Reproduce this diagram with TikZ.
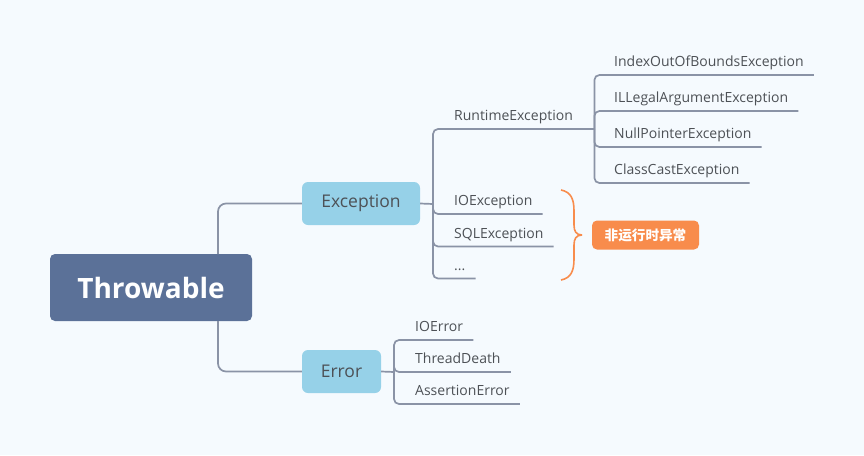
\documentclass[tikz,border=0pt]{standalone}
\usepackage{fontspec}
\setmainfont{Open Sans}
\newfontfamily\cjk{Noto Sans CJK SC}
\definecolor{bgc}{HTML}{F5FAFE}
\definecolor{rootc}{HTML}{5B7198}
\definecolor{subc}{HTML}{96D1E8}
\definecolor{linec}{HTML}{8A93A6}
\definecolor{txtc}{HTML}{4D5156}
\definecolor{orangec}{HTML}{F88C4C}
\begin{document}
\begin{tikzpicture}[x=1pt,y=-1pt,
  conn/.style={draw=linec,line width=1.7pt,rounded corners=5pt},
  rootbox/.style={fill=rootc,rounded corners=5pt,minimum width=202pt,minimum height=67pt,text=white,font=\fontsize{28}{30}\selectfont\bfseries},
  subbox/.style={fill=subc,rounded corners=6pt,minimum height=43pt,text=txtc,font=\fontsize{17.5}{20}\selectfont},
  leaf/.style={anchor=south west,inner xsep=10pt,inner ysep=8pt,text depth=0pt,text=txtc,font=\fontsize{14}{16}\selectfont},
  orangebox/.style={fill=orangec,rounded corners=5pt,minimum width=107pt,minimum height=29pt,text=white,font=\cjk\bfseries\fontsize{13.6}{15}\selectfont},
  brace/.style={draw=orangec,line width=1.6pt}]
\fill[bgc] (0,0) rectangle (864,455);
\useasboundingbox (0,0) rectangle (864,455);

\node[rootbox] (thr) at (151,287.5) {Throwable};
\node[subbox,minimum width=118pt] (exc) at (361,203.5) {Exception};
\node[subbox,minimum width=79pt] (err) at (341.5,371.5) {Error};

\coordinate (tj1) at (218,254);
\coordinate (tj2) at (218,321);
\draw[conn,rounded corners=8pt] (tj1) |- (exc.west);
\draw[conn,rounded corners=8pt] (tj2) |- (err.west);

% Exception branch
\coordinate (ej) at (433,204);
\draw[conn] (exc.east) -- (ej);
\node[leaf,text width=130pt,align=left] (rt) at (444,129) {RuntimeException};
\node[leaf] (io) at (444,214) {IOException};
\node[leaf] (sql) at (444,246.5) {SQLException};
\node[leaf] (dots) at (444,278.5) {...};
\draw[conn] (ej) |- (rt.south east);
\draw[conn] (ej) |- (io.south east);
\draw[conn] (ej) |- (sql.south east);
\draw[conn] (ej) |- (dots.south east);

% Runtime branch
\coordinate (rj) at (rt.south east);
\node[leaf] (idx) at (604,75) {IndexOutOfBoundsException};
\node[leaf] (ill) at (604,111) {ILLegalArgumentException};
\node[leaf] (npe) at (604,147) {NullPointerException};
\node[leaf] (cce) at (604,183) {ClassCastException};
\draw[conn] (rj) |- (idx.south east);
\draw[conn] (rj) |- (ill.south east);
\draw[conn] (rj) |- (npe.south east);
\draw[conn] (rj) |- (cce.south east);

% Error branch
\coordinate (erj) at (394,372);
\draw[conn] (err.east) -- (erj);
\node[leaf] (ioe) at (405,340) {IOError};
\node[leaf] (td) at (405,372) {ThreadDeath};
\node[leaf] (ae) at (405,404) {AssertionError};
\draw[conn] (erj) |- (ioe.south east);
\draw[conn] (erj) |- (td.south east);
\draw[conn] (erj) |- (ae.south east);

% brace
\coordinate (bt) at (561,190);
\coordinate (bb) at (561,280);
\coordinate (tip) at (582,235);
\draw[brace] (bt) .. controls (571,192) and (574,199) .. (574,211) -- (574,225) .. controls (574,231) and (576,235) .. (tip);
\draw[brace] (bb) .. controls (571,278) and (574,271) .. (574,259) -- (574,245) .. controls (574,239) and (576,235) .. (tip);
\node[orangebox] (nre) at (645.5,235) {非运行时异常};
\end{tikzpicture}
\end{document}
